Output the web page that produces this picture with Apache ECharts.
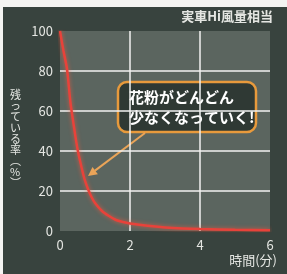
<!DOCTYPE html>
<html>
<head>
<meta charset="utf-8">
<script src="https://cdn.jsdelivr.net/npm/echarts@6/dist/echarts.min.js"></script>
<style>
  html, body { margin: 0; padding: 0; background: #f4f4f2; }
  #chart { position: absolute; left: 3px; top: 7px; width: 284px; height: 267px; }
</style>
</head>
<body>
<div id="chart"></div>
<script>
// 残存率（%）の読み取り値
const timeMin = [0, 0.1, 0.2, 0.3, 0.4, 0.5, 0.6, 0.7, 0.8, 0.9, 1.0, 1.2, 1.4, 1.6, 1.8, 2.0, 2.5, 3.0, 3.5, 4.0, 5.0, 6.0]
const remainPct = [100, 90, 81, 64, 52, 41, 33, 26, 21, 17, 14, 10, 7.5, 5.5, 4.5, 3.8, 2.6, 1.8, 1.3, 1.0, 0.6, 0.4]
const xTicks = [0, 2, 4, 6]
const yTicks = [0, 20, 40, 60, 80, 100]

const font = '"Noto Sans CJK JP", "Noto Sans", sans-serif'
const textColor = '#e4e6e2'

const chart = echarts.init(document.getElementById('chart'))
chart.setOption({
  backgroundColor: '#38433e',
  animation: false,
  grid: {
    left: 57, right: 17, top: 24, bottom: 43,
    show: true,
    backgroundColor: '#5b655f',
    borderWidth: 0
  },
  xAxis: {
    type: 'value',
    min: xTicks[0],
    max: xTicks[xTicks.length - 1],
    interval: 2,
    axisLine: { show: false },
    axisTick: { show: false },
    axisLabel: { color: textColor, fontSize: 13, fontFamily: font, margin: 8 },
    splitLine: { show: true, showMinLine: false, showMaxLine: false, lineStyle: { color: '#f2f2f0', width: 1.5 } }
  },
  yAxis: {
    type: 'value',
    min: yTicks[0],
    max: yTicks[yTicks.length - 1],
    interval: 20,
    axisLine: { show: false },
    axisTick: { show: false },
    axisLabel: { color: textColor, fontSize: 13, fontFamily: font, margin: 7 },
    splitLine: { show: true, showMinLine: false, showMaxLine: false, lineStyle: { color: '#f2f2f0', width: 1.5 } }
  },
  series: [{
    type: 'line',
    data: timeMin.map((t, i) => [t, remainPct[i]]),
    smooth: 0.3,
    symbol: 'none',
    lineStyle: { color: '#e8423a', width: 2.5, shadowBlur: 4, shadowColor: 'rgba(255,90,60,0.7)' }
  }],
  graphic: [
    {
      type: 'text', right: 14, top: 3,
      style: { text: '実車Hi風量相当', fill: textColor, font: 'bold 13px ' + font }
    },
    {
      type: 'text', right: 10, top: 247,
      style: { text: '時間(分)', fill: textColor, font: '13px ' + font }
    },
    {
      type: 'text', left: 7, top: 82,
      style: {
        text: '残\nっ\nて\nい\nる\n率\n︵\n%\n︶',
        fill: textColor, font: '11px ' + font, lineHeight: 11, align: 'center', width: 12
      }
    },
    // 吹き出し
    {
      type: 'rect',
      shape: { x: 115, y: 75, width: 138, height: 50, r: 9 },
      style: { fill: '#2f3934', stroke: '#e89a3c', lineWidth: 2.5 }
    },
    {
      type: 'text', left: 126, top: 80,
      style: {
        text: '花粉がどんどん\n少なくなっていく!',
        fill: '#ffffff', font: 'bold 15px ' + font, lineHeight: 20
      }
    },
    {
      type: 'line',
      shape: { x1: 142, y1: 126, x2: 92, y2: 163.6 },
      style: { stroke: '#eaa458', lineWidth: 2 }
    },
    {
      type: 'polygon',
      shape: { points: [[85, 169], [94.9, 167.2], [89.5, 160]] },
      style: { fill: '#eaa458' }
    }
  ]
})
</script>
</body>
</html>
